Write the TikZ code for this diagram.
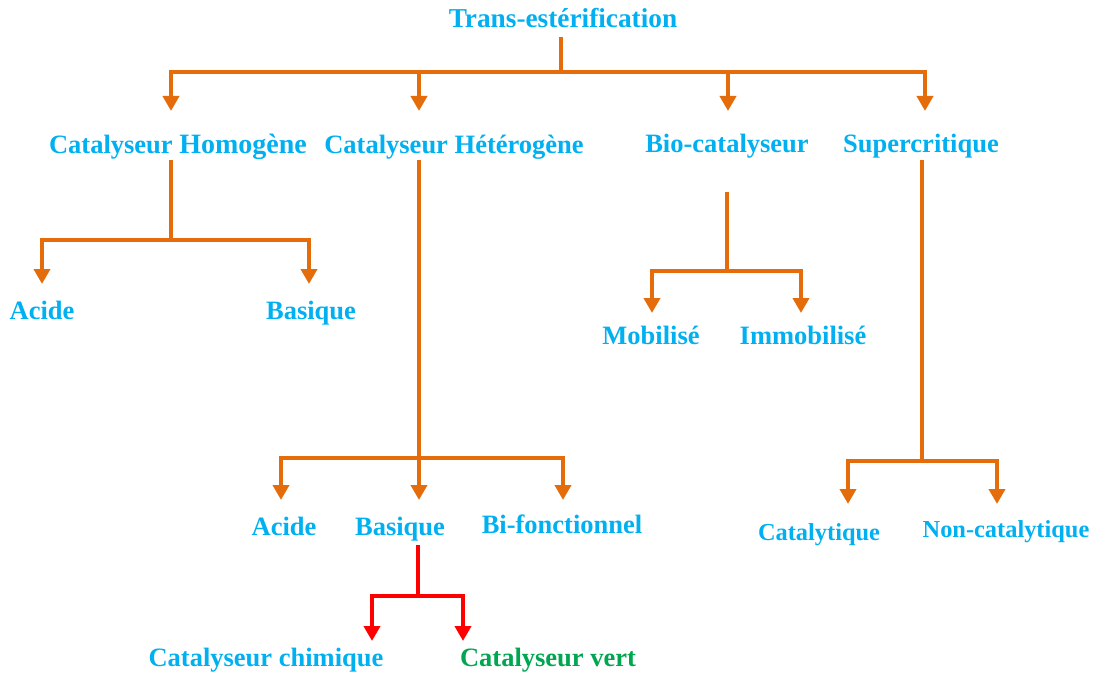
\documentclass[tikz,border=0pt]{standalone}
\usepackage{fontspec}
\setmainfont{Liberation Serif}
\usetikzlibrary{arrows.meta}
\definecolor{txtblue}{RGB}{0,176,240}
\definecolor{lnorange}{RGB}{228,108,10}
\definecolor{txtgreen}{RGB}{0,166,80}
\definecolor{lnred}{RGB}{255,0,0}
\begin{document}
\begin{tikzpicture}[x=1pt,y=-1pt,
  lbl/.style={text=txtblue,font=\fontsize{26.5}{30}\selectfont\bfseries,inner sep=0pt,anchor=base},
  small/.style={font=\fontsize{24.4}{28}\selectfont\bfseries},
  ln/.style={draw=lnorange,line width=4pt},
  arr/.style={ln,-{Triangle[width=16pt,length=15pt]}},
  redln/.style={draw=lnred,line width=4pt},
  redarr/.style={redln,-{Triangle[width=16pt,length=15pt]}}]
\useasboundingbox (0,0) rectangle (1093,677);
% labels
\node[lbl,font=\fontsize{27.3}{30}\selectfont\bfseries] (root) at (563,28) {Trans-estérification};
\node[lbl] (homo) at (178,153) {Catalyseur {\fontsize{28}{30}\selectfont Homogène}};
\node[lbl] (hete) at (454,153) {Catalyseur Hétérogène};
\node[lbl] (bio) at (727,152) {Bio-catalyseur};
\node[lbl] (super) at (921,152) {Supercritique};
\node[lbl] (hacide) at (42,319) {Acide};
\node[lbl] (hbasique) at (311,319) {Basique};
\node[lbl] (tacide) at (284,535) {Acide};
\node[lbl] (tbasique) at (400,535) {Basique};
\node[lbl] (bifonc) at (562,533) {Bi-fonctionnel};
\node[lbl] (chim) at (266,666) {Catalyseur chimique};
\node[lbl,text=txtgreen] (vert) at (548,666) {Catalyseur vert};
\node[lbl] (mobi) at (651,344) {Mobilisé};
\node[lbl] (immo) at (803,344) {Immobilisé};
\node[lbl,small] (cata) at (819,540) {Catalytique};
\node[lbl,small] (ncata) at (1006,537) {Non-catalytique};
% coordinates
\coordinate (s0) at (561,37);   \coordinate (j0) at (561,72);
\coordinate (t1) at (171,111);  \coordinate (t2) at (419,111);
\coordinate (t3) at (728,111);  \coordinate (t4) at (925,111);
\coordinate (s1) at (171,160);  \coordinate (j1) at (171,240);
\coordinate (u1) at (42,284);   \coordinate (u2) at (309,284);
\coordinate (s2) at (419,160);  \coordinate (j2) at (419,458);
\coordinate (v1) at (281,500);  \coordinate (v2) at (419,500); \coordinate (v3) at (563,500);
\coordinate (s3) at (418,545);  \coordinate (j3) at (418,596);
\coordinate (w1) at (372,641);  \coordinate (w2) at (463,641);
\coordinate (s4) at (727,192);  \coordinate (j4) at (727,271);
\coordinate (m1) at (652,313);  \coordinate (m2) at (801,313);
\coordinate (s5) at (922,160);  \coordinate (j5) at (922,461);
\coordinate (n1) at (848,504);  \coordinate (n2) at (997,504);
% connectors
\draw[ln] (s0) -- (j0);
\draw[arr] (j0) -| (t1);
\draw[arr] (j0) -| (t4);
\draw[arr] (t2 |- j0) -- (t2);
\draw[arr] (t3 |- j0) -- (t3);
\draw[ln] (s1) -- (j1);
\draw[arr] (j1) -| (u1);
\draw[arr] (j1) -| (u2);
\draw[ln] (s2) -- (j2);
\draw[arr] (j2) -| (v1);
\draw[arr] (j2) -- (v2);
\draw[arr] (j2) -| (v3);
\draw[redln] (s3) -- (j3);
\draw[redarr] (j3) -| (w1);
\draw[redarr] (j3) -| (w2);
\draw[ln] (s4) -- (j4);
\draw[arr] (j4) -| (m1);
\draw[arr] (j4) -| (m2);
\draw[ln] (s5) -- (j5);
\draw[arr] (j5) -| (n1);
\draw[arr] (j5) -| (n2);
\end{tikzpicture}
\end{document}
